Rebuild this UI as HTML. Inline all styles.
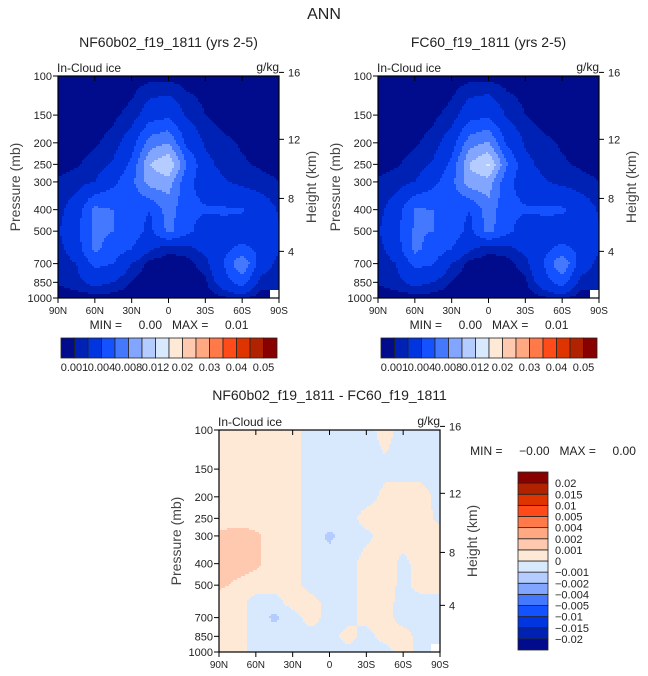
<!DOCTYPE html>
<html><head><meta charset="utf-8">
<style>
html,body{margin:0;padding:0;background:#fff;}
svg{display:block;font-family:"Liberation Sans",sans-serif;}
</style></head>
<body>
<svg id="fig" width="648" height="676" viewBox="0 0 648 676" xmlns="http://www.w3.org/2000/svg">
<text x="324" y="19" font-size="16" text-anchor="middle" fill="#222">ANN</text>
</svg>
<script>
// ---------- data ----------
const pressureLevels = [100,150,200,250,300,400,500,600,700,850,1000];
const latitudes = [90,75,60,45,30,15,0,-15,-30,-45,-60,-75,-90];
const pressureTicks = [100,150,200,250,300,400,500,700,850,1000];
const heightTicks = [4,8,12,16];
const latTicks = [90,60,30,0,-30,-60,-90];
const latTickLabels = ["90N","60N","30N","0","30S","60S","90S"];
const iceLevels = [0.001,0.002,0.004,0.006,0.008,0.01,0.012,0.015,0.02,0.025,0.03,0.035,0.04,0.045,0.05];
const iceLevelLabels = ["0.001","0.004","0.008","0.012","0.02","0.03","0.04","0.05"];
const diffLevels = [-0.02,-0.015,-0.01,-0.005,-0.004,-0.002,-0.001,0,0.001,0.002,0.004,0.005,0.01,0.015,0.02];
const diffLevelLabels = ["-0.02","-0.015","-0.01","-0.005","-0.004","-0.002","-0.001","0","0.001","0.002","0.004","0.005","0.01","0.015","0.02"];
const nfIce = [
 [0.0004,0.0004,0.0004,0.0005,0.0005,0.0006,0.0006,0.0005,0.0005,0.0004,0.0004,0.0004,0.0004],
 [0.0004,0.0005,0.0006,0.0008,0.0013,0.003,0.0035,0.0018,0.001,0.0006,0.0005,0.0004,0.0004],
 [0.0005,0.0007,0.0009,0.0013,0.003,0.007,0.008,0.0035,0.0018,0.0012,0.0009,0.0007,0.0006],
 [0.0007,0.0009,0.0013,0.0022,0.0045,0.01,0.012,0.006,0.0025,0.0015,0.0011,0.0009,0.0008],
 [0.0011,0.0014,0.002,0.0035,0.0055,0.009,0.009,0.0045,0.003,0.0022,0.0016,0.0012,0.001],
 [0.0015,0.003,0.0065,0.006,0.0045,0.004,0.007,0.0045,0.0042,0.0042,0.0042,0.0032,0.0018],
 [0.0018,0.0035,0.0065,0.006,0.005,0.0035,0.0065,0.0045,0.003,0.0035,0.003,0.0028,0.0022],
 [0.0015,0.003,0.0065,0.005,0.004,0.0022,0.0012,0.0015,0.0025,0.0035,0.0045,0.0035,0.0022],
 [0.0012,0.002,0.0045,0.004,0.002,0.0006,0.0005,0.0006,0.0015,0.004,0.008,0.003,0.0015],
 [0.0011,0.0016,0.0025,0.002,0.0009,0.0004,0.0004,0.0004,0.0008,0.003,0.005,0.0015,0.0012],
 [0.0004,0.0004,0.0005,0.0005,0.0004,0.0004,0.0004,0.0004,0.0004,0.0008,0.0012,0.0004,null]
];
const fcIce = [
 [0.0004,0.0004,0.0004,0.0005,0.0005,0.0006,0.0006,0.0005,0.0005,0.0004,0.0004,0.0004,0.0004],
 [0.0004,0.0005,0.0006,0.0008,0.0013,0.0031,0.0036,0.0018,0.001,0.0006,0.0005,0.0004,0.0004],
 [0.0005,0.0007,0.0009,0.0013,0.003,0.0072,0.0082,0.0036,0.0018,0.0012,0.0009,0.0007,0.0006],
 [0.0007,0.0009,0.0013,0.0022,0.0045,0.0102,0.0123,0.0062,0.0025,0.0015,0.0011,0.0009,0.0008],
 [0.0011,0.0014,0.002,0.0034,0.0055,0.0092,0.0092,0.0045,0.003,0.0022,0.0016,0.0012,0.001],
 [0.0015,0.003,0.0062,0.006,0.0045,0.004,0.0072,0.0045,0.0042,0.0042,0.0043,0.0032,0.0018],
 [0.0018,0.0035,0.0063,0.006,0.005,0.0035,0.0066,0.0045,0.003,0.0035,0.003,0.0028,0.0022],
 [0.0015,0.003,0.0066,0.005,0.004,0.0022,0.0012,0.0015,0.0025,0.0035,0.0045,0.0035,0.0022],
 [0.0012,0.002,0.0046,0.0041,0.002,0.0006,0.0005,0.0006,0.0015,0.004,0.008,0.003,0.0015],
 [0.0011,0.0016,0.0025,0.002,0.0009,0.0004,0.0004,0.0004,0.0008,0.003,0.005,0.0015,0.0012],
 [0.0004,0.0004,0.0005,0.0005,0.0004,0.0004,0.0004,0.0004,0.0004,0.0008,0.0012,0.0004,null]
];
const diffIce = [
 [0.0005,0.0005,0.0005,0.0005,0.0005,-0.0005,-0.0005,-0.0005,-0.0005,0.0005,-0.0005,-0.0005,-0.0005],
 [0.0005,0.0005,0.0005,0.0005,0.0005,-0.0005,-0.0005,-0.0005,-0.0005,-0.0003,-0.0005,-0.0005,-0.0005],
 [0.0005,0.0005,0.0005,0.0005,0.0005,-0.0005,-0.0005,-0.0005,-0.0005,0.0003,0.0005,0.0005,-0.0005],
 [0.0005,0.0005,0.0005,0.0005,0.0005,-0.0005,-0.0005,-0.0005,0.0005,0.0005,0.0005,0.0005,-0.0003],
 [0.0012,0.0015,0.0012,0.0005,0.0005,-0.0005,-0.0012,-0.0005,-0.0003,0.0005,0.0005,0.0005,0.0005],
 [0.0015,0.0015,0.0012,0.0005,0.0005,-0.0005,-0.0005,-0.0005,0.0005,0.0005,-0.0003,0.0005,0.0005],
 [0.0012,0.0008,0.0005,0.0005,0.0005,-0.0005,-0.0005,-0.0005,0.0005,0.0005,-0.0003,0.0005,0.0005],
 [0.0005,0.0005,-0.0005,-0.0005,0.0005,0.0005,-0.0005,-0.0005,0.0005,0.0005,-0.0005,-0.0005,-0.0005],
 [0.0005,0.0005,-0.0005,-0.0012,-0.0005,0.0005,-0.0005,-0.0005,0.0005,0.0005,-0.0005,-0.0005,-0.0005],
 [0.0005,0.0005,-0.0005,-0.0005,-0.0005,-0.0005,-0.0005,0.0005,-0.0005,0.0005,0.0005,-0.0005,-0.0005],
 [0.0005,0.0005,-0.0005,-0.0005,-0.0005,-0.0005,-0.0005,-0.0005,-0.0005,-0.0005,0.0005,-0.0005,null]
];
const palette = ["#000c8c","#0022b4","#0035e0","#1452ff","#4478ff","#82a6ff","#b4ccff","#d8e9fd","#fde9d5","#ffc9b0","#ffa882","#ff7a48","#ff4a1a","#e03400","#b02200","#880000"];

// ---------- helpers ----------
const NS="http://www.w3.org/2000/svg";
const fig=document.getElementById('fig');
function mk(tag,attrs,parent){const e=document.createElementNS(NS,tag);for(const k in attrs)e.setAttribute(k,attrs[k]);(parent||fig).appendChild(e);return e;}
const PW=221, PH=222;
function yOfP(y0,p){return y0+PH*Math.log10(p/100);}
function xOfLat(x0,lat){return x0+PW*(90-lat)/180;}
function pOfH(km){return 1013.25*Math.pow(1-2.2557e-5*km*1000,5.2559);}
function sample(grid,x0,y0,px,py){
  const p=100*Math.pow(10,(py-y0)/PH);
  let i=0; while(i<pressureLevels.length-2 && p>pressureLevels[i+1]) i++;
  const lp=Math.log(p), a=Math.log(pressureLevels[i]), b=Math.log(pressureLevels[i+1]);
  let t=Math.min(1,Math.max(0,(lp-a)/(b-a)));
  const fc=(px-x0)/PW*(latitudes.length-1);
  let j=Math.min(latitudes.length-2,Math.max(0,Math.floor(fc))); let s=Math.min(1,Math.max(0,fc-j));
  const v00=grid[i][j],v01=grid[i][j+1],v10=grid[i+1][j],v11=grid[i+1][j+1];
  if(v00===null||v01===null||v10===null||v11===null){
    // missing only if nearest corner is missing
    const near=[[v00,(1-t)*(1-s)],[v01,(1-t)*s],[v10,t*(1-s)],[v11,t*s]].sort((x,y)=>y[1]-x[1])[0][0];
    if(near===null) return null;
    let sw=0,sv=0;[[v00,(1-t)*(1-s)],[v01,(1-t)*s],[v10,t*(1-s)],[v11,t*s]].forEach(q=>{if(q[0]!==null){sw+=q[1];sv+=q[0]*q[1];}});
    return sw>0?sv/sw:null;
  }
  return (1-t)*((1-s)*v00+s*v01)+t*((1-s)*v10+s*v11);
}
function cls(v,levels){let k=0;while(k<levels.length&&v>=levels[k])k++;return k;}

function drawPanel(x0,y0,grid,levels,name,title,titleY){
  const g=mk('g',{});
  
  
  const fill=mk('g',{},g);
  
  
  const st=2;
  function flush(x1,x2,py,c){
    const r=mk('rect',{x:x1,y:py,width:x2-x1+0.3,height:Math.min(st,y0+PH-py)+0.3,fill:c},fill);
    
    
  }
  for(let py=y0;py<y0+PH;py+=st){
    let runStart=x0, runC=null;
    for(let px=x0;px<x0+PW;px+=st){
      const v=sample(grid,x0,y0,px+st/2,py+st/2);
      const c=v===null?'#ffffff':palette[cls(v,levels)];
      if(c!==runC){
        if(runC!==null) flush(runStart,px,py,runC);
        runStart=px; runC=c;
      }
    }
    if(runC!==null) flush(runStart,x0+PW,py,runC);
  }
  const fr=mk('rect',{x:x0,y:y0,width:PW,height:PH,fill:'none',stroke:'#000','stroke-width':1.2},g);
  
  
  pressureTicks.forEach(p=>{const y=yOfP(y0,p);
    mk('line',{x1:x0-5,x2:x0,y1:y,y2:y,stroke:'#000'},g);
    const t=mk('text',{x:x0-6,y:y+4,'font-size':11,'text-anchor':'end',fill:'#222'},g);t.textContent=p;
    
    });
  heightTicks.forEach(h=>{const y=yOfP(y0,pOfH(h));
    mk('line',{x1:x0+PW,x2:x0+PW+5,y1:y,y2:y,stroke:'#000'},g);
    const t=mk('text',{x:x0+PW+9,y:y+4,'font-size':11,fill:'#222'},g);t.textContent=h;
    
    });
  latTicks.forEach((lat,k)=>{const x=xOfLat(x0,lat);
    mk('line',{x1:x,x2:x,y1:y0+PH,y2:y0+PH+5,stroke:'#000'},g);
    mk('line',{x1:x,x2:x,y1:y0,y2:y0+5,stroke:'#000'},g);
    const t=mk('text',{x:x,y:y0+PH+16,'font-size':10,'text-anchor':'middle',fill:'#222'},g);t.textContent=latTickLabels[k];
    
    });
  const yl=mk('text',{x:0,y:0,'font-size':14,'text-anchor':'middle',fill:'#444',transform:`translate(${x0-38},${y0+PH/2}) rotate(-90)`},g);
  yl.textContent='Pressure (mb)';
  
  
  const yr=mk('text',{x:0,y:0,'font-size':14,'text-anchor':'middle',fill:'#444',transform:`translate(${x0+PW+37},${y0+PH/2}) rotate(-90)`},g);
  yr.textContent='Height (km)';
  
  
  const l1=mk('text',{x:x0-1,y:y0-4,'font-size':12,fill:'#222'},g);l1.textContent='In-Cloud ice';
  
  
  const l2=mk('text',{x:x0+PW,y:y0-5,'font-size':12,'text-anchor':'end',fill:'#222'},g);l2.textContent='g/kg';
  
  
  const tt=mk('text',{x:x0+PW/2,y:titleY,'font-size':14,'text-anchor':'middle',fill:'#222'},g);tt.textContent=title;
  
  
  return g;
}
function hColorbar(x0,y0,name){
  const g=mk('g',{});
  
  
  const w=216/palette.length;
  palette.forEach((c,k)=>{const r=mk('rect',{x:x0+k*w,y:y0,width:w,height:20,fill:c,stroke:'#222','stroke-width':0.8},g);
    
    });
  iceLevelLabels.forEach((lab,k)=>{const t=mk('text',{x:x0+w*(2*k+1),y:y0+33,'font-size':11,'text-anchor':'middle',fill:'#222'},g);t.textContent=lab;
    
    });
}
function minmax(x,y,mn,mx,name){
  const t=mk('text',{x:x,y:y,'font-size':12,'text-anchor':'middle',fill:'#222',style:'white-space:pre'});
  t.textContent='MIN =     '+mn+'   MAX =     '+mx;
  
  
}

drawPanel(58,76,nfIce,iceLevels,'nf-panel','NF60b02_f19_1811 (yrs 2-5)',47);
minmax(169,329,'0.00','0.01','nf-min-max');
hColorbar(61,338,'nf-colorbar');
drawPanel(378,76,fcIce,iceLevels,'fc-panel','FC60_f19_1811 (yrs 2-5)',47);
minmax(489,329,'0.00','0.01','fc-min-max');
hColorbar(381,338,'fc-colorbar');
drawPanel(219,430,diffIce,diffLevels,'diff-panel','NF60b02_f19_1811 - FC60_f19_1811',400);
minmax(553,455,'\u22120.00','0.00','diff-min-max');
(function(){
  const g=mk('g',{});
  
  
  const x0=518,y0=472,h=178/palette.length;
  palette.forEach((c,k)=>{const r=mk('rect',{x:x0,y:y0+(palette.length-1-k)*h,width:30,height:h,fill:c,stroke:'#222','stroke-width':0.8},g);
    
    });
  diffLevelLabels.forEach((lab,k)=>{const y=y0+(palette.length-1-k)*h;
    const t=mk('text',{x:555,y:y+4,'font-size':11,fill:'#222'},g);t.textContent=lab.replace('-','\u2212');
    
    });
})();
</script>
</body></html>
